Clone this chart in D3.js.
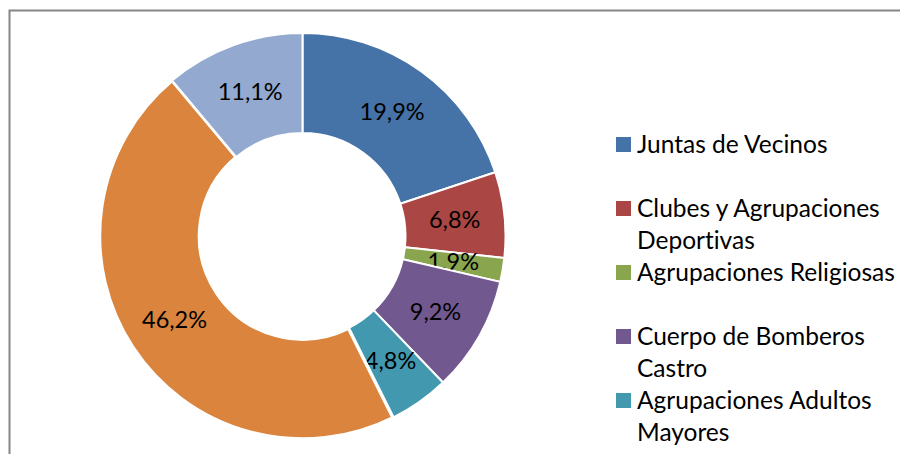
<!doctype html>
<html>
<head>
<meta charset="utf-8">
<style>
    body { margin: 0; background: #fff; }
    text { font-family: Lato, "Liberation Sans", sans-serif; fill: #000; font-variant-ligatures: none; }
</style>
<script src="https://d3js.org/d3.v7.min.js"></script>
</head>
<body>
<svg id="chart" width="900" height="454"></svg>
<script>
    // data (two last categories sit below the visible area)
    var categories = ["Juntas de Vecinos", "Clubes y Agrupaciones Deportivas", "Agrupaciones Religiosas",
                      "Cuerpo de Bomberos Castro", "Agrupaciones Adultos Mayores", "Otras", "Sin información"];
    var values = [19.9, 6.8, 1.9, 9.2, 4.8, 46.2, 11.1];
    var legendLines = [["Juntas de Vecinos"], ["Clubes y Agrupaciones", "Deportivas"], ["Agrupaciones Religiosas"],
                       ["Cuerpo de Bomberos", "Castro"], ["Agrupaciones Adultos", "Mayores"], ["Otras"], ["Sin información"]];
    var colors = ["#4572A7", "#AA4643", "#89A54E", "#71588F", "#4198AF", "#DB843D", "#93A9CF"];

    var svg = d3.select("#chart"),
        width = +svg.attr("width"),
        height = +svg.attr("height");

    // chart frame (right and bottom edges fall outside the picture)
    svg.append("rect")
       .attr("x", 9.5)
       .attr("y", 10.5)
       .attr("width", 920)
       .attr("height", 600)
       .attr("fill", "none")
       .attr("stroke", "#868686")
       .attr("stroke-width", 2);

    var cx = 302.5, cy = 236,
        outerR = 203, innerR = 103;

    var color = d3.scaleOrdinal().domain(categories).range(colors);

    var pie = d3.pie().sort(null).value(function(d, i) { return values[i]; });
    var arc = d3.arc().innerRadius(innerR).outerRadius(outerR);
    var labelArc = d3.arc().innerRadius((innerR + outerR) / 2).outerRadius((innerR + outerR) / 2);

    var g = svg.append("g")
               .attr("transform", "translate(" + cx + "," + cy + ")");

    var slices = g.selectAll(".slice")
        .data(pie(categories))
        .enter().append("g")
        .attr("class", "slice");

    slices.append("path")
          .attr("d", arc)
          .attr("fill", function(d) { return color(d.data); })
          .attr("stroke", "#fff")
          .attr("stroke-linejoin", "round")
          .attr("stroke-width", function(d, i) { return i === 5 ? 3.5 : 2; });

    slices.append("text")
          .attr("transform", function(d) { return "translate(" + labelArc.centroid(d) + ")"; })
          .attr("text-anchor", "middle")
          .attr("dy", "0.35em")
          .attr("font-size", "23.5px")
          .text(function(d, i) { return values[i].toFixed(1).replace(".", ",") + "%"; });

    // legend
    var legend = svg.append("g")
                    .attr("transform", "translate(616,0)");

    var items = legend.selectAll(".item")
        .data(categories.filter(function(c, i) { return 153 + i * 64 < height; }))
        .enter().append("g")
        .attr("class", "item")
        .attr("transform", function(d, i) { return "translate(0," + (153 + i * 64) + ")"; });

    items.append("rect")
         .attr("x", 0)
         .attr("y", -16)
         .attr("width", 15)
         .attr("height", 15)
         .attr("fill", function(d) { return color(d); });

    items.append("text")
         .attr("x", 21)
         .attr("y", 0)
         .attr("font-size", "24.5px")
         .selectAll("tspan")
         .data(function(d, i) { return legendLines[i]; })
         .enter().append("tspan")
         .attr("x", 21)
         .attr("dy", function(d, j) { return j === 0 ? 0 : 32; })
         .text(function(d) { return d; });
</script>
</body>
</html>
